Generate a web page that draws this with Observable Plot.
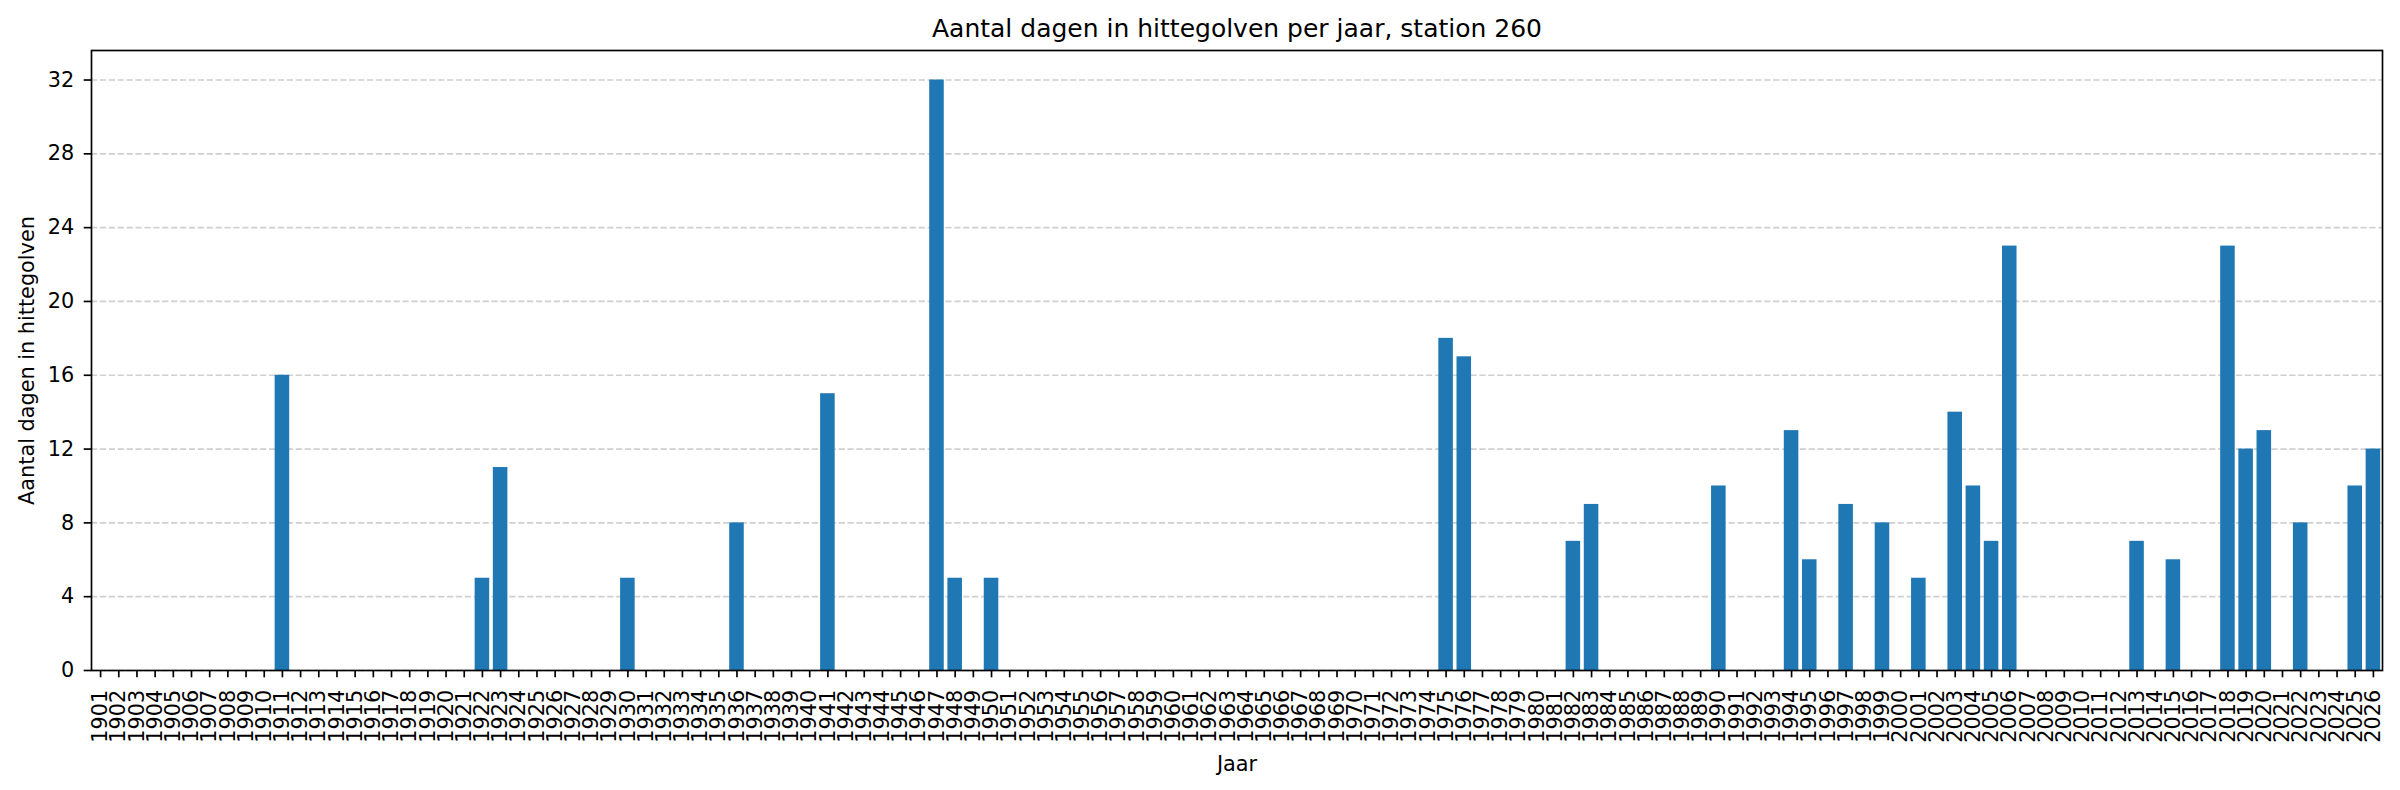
<!DOCTYPE html>
<html>
<head>
<meta charset="utf-8">
<script src="https://cdn.jsdelivr.net/npm/d3@7"></script>
<script src="https://cdn.jsdelivr.net/npm/@observablehq/plot@0.6"></script>
<style>
  html, body { margin: 0; padding: 0; background: #fff; }
  #chart svg { display: block; }
</style>
</head>
<body>
<div id="chart"></div>
<script>
// Categories: years 1901..2026
const years = [
  "1901","1902","1903","1904","1905","1906","1907","1908","1909","1910",
  "1911","1912","1913","1914","1915","1916","1917","1918","1919","1920",
  "1921","1922","1923","1924","1925","1926","1927","1928","1929","1930",
  "1931","1932","1933","1934","1935","1936","1937","1938","1939","1940",
  "1941","1942","1943","1944","1945","1946","1947","1948","1949","1950",
  "1951","1952","1953","1954","1955","1956","1957","1958","1959","1960",
  "1961","1962","1963","1964","1965","1966","1967","1968","1969","1970",
  "1971","1972","1973","1974","1975","1976","1977","1978","1979","1980",
  "1981","1982","1983","1984","1985","1986","1987","1988","1989","1990",
  "1991","1992","1993","1994","1995","1996","1997","1998","1999","2000",
  "2001","2002","2003","2004","2005","2006","2007","2008","2009","2010",
  "2011","2012","2013","2014","2015","2016","2017","2018","2019","2020",
  "2021","2022","2023","2024","2025","2026"
];
// Days in heatwaves per year (same order as years)
const days = [
  0,0,0,0,0,0,0,0,0,0,
  16,0,0,0,0,0,0,0,0,0,
  0,5,11,0,0,0,0,0,0,5,
  0,0,0,0,0,8,0,0,0,0,
  15,0,0,0,0,0,32,5,0,5,
  0,0,0,0,0,0,0,0,0,0,
  0,0,0,0,0,0,0,0,0,0,
  0,0,0,0,18,17,0,0,0,0,
  0,7,9,0,0,0,0,0,0,10,
  0,0,0,13,6,0,9,0,8,0,
  5,0,14,10,7,23,0,0,0,0,
  0,0,7,0,6,0,0,23,12,13,
  0,8,0,0,10,12
];
const yTicks = [0, 4, 8, 12, 16, 20, 24, 28, 32];
const title = "Aantal dagen in hittegolven per jaar, station 260";
const xLabel = "Jaar";
const yLabel = "Aantal dagen in hittegolven";

const data = years.map((y, i) => ({year: y, days: days[i]}));

const FONT = "DejaVu Sans, sans-serif";
const FS = 20.8;

const chart = Plot.plot({
  width: 2400,
  height: 790,
  marginLeft: 91,
  marginRight: 18,
  marginTop: 50,
  marginBottom: 120,
  style: {fontFamily: FONT, fontSize: FS + "px", color: "black", background: "white"},
  x: {type: "band", domain: years, paddingInner: 0.2, paddingOuter: 0.1, round: false, label: null},
  y: {domain: [0, 33.6], label: null},
  marks: [
    Plot.ruleY(yTicks, {stroke: "#d0d0d0", strokeWidth: 1.67, strokeDasharray: "6.2,2.7"}),
    Plot.barY(data, {x: "year", y: "days", fill: "#1f77b4"}),
    Plot.axisX({tickRotate: -90, tickSize: 7.3, tickPadding: 12, fontSize: FS, strokeWidth: 1.67, label: null}),
    Plot.axisY({ticks: yTicks, tickSize: 7.3, tickPadding: 10, fontSize: FS, strokeWidth: 1.67, label: null}),
    Plot.frame({stroke: "black", strokeWidth: 1.67}),
    Plot.text([title], {frameAnchor: "top", dy: -14, lineAnchor: "bottom", fontSize: 25, fill: "black"}),
    Plot.text([xLabel], {frameAnchor: "bottom", dy: 100, lineAnchor: "bottom", fontSize: FS, fill: "black"}),
    Plot.text([yLabel], {frameAnchor: "left", dx: -64, rotate: -90, textAnchor: "middle", lineAnchor: "middle", fontSize: FS, fill: "black"})
  ]
});
document.getElementById("chart").appendChild(chart);
</script>
</body>
</html>
